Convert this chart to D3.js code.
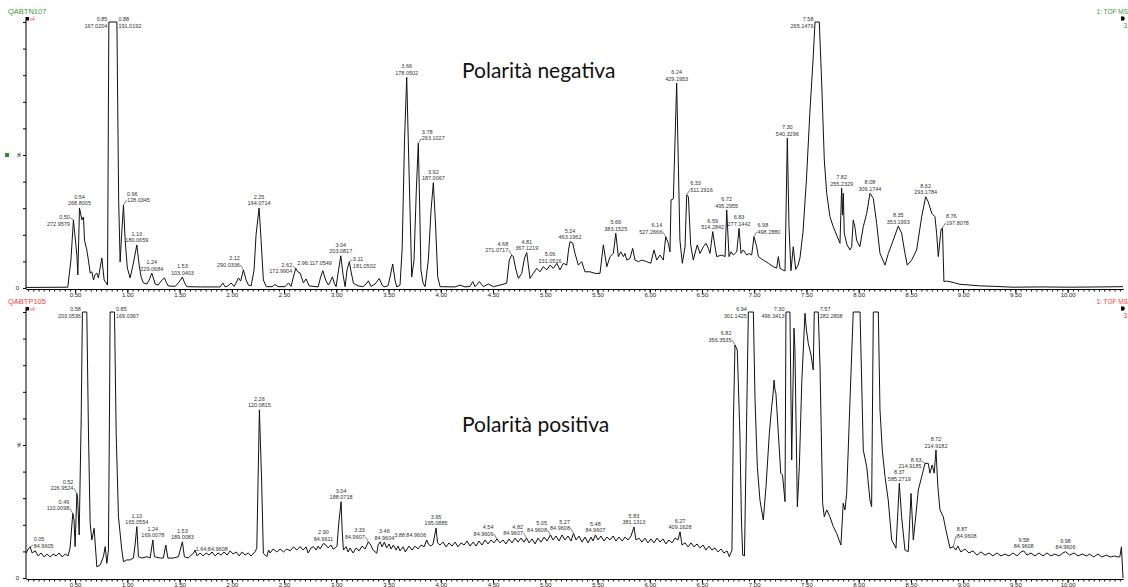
<!DOCTYPE html>
<html><head><meta charset="utf-8">
<script src="https://cdn.jsdelivr.net/npm/d3@7"></script>
<style>body{margin:0;background:#fff}svg{display:block}</style>
</head><body>
<svg id="chart" width="1128" height="587"></svg>
<script>
// Retention time (min) and relative intensity (%) of the ESI- TIC trace
const negTrace = [[0.03,0.2],[0.43,0.3],[0.46,10.5],[0.484,25.6],[0.517,12.4],[0.526,4.9],[0.542,30.1],[0.565,25.6],[0.58,26.7],[0.59,18],[0.612,14.3],[0.63,9.8],[0.644,5.6],[0.66,6.1],[0.676,3],[0.69,4.9],[0.708,5.6],[0.723,3.8],[0.756,11.3],[0.778,3],[0.81,1.1],[0.823,100],[0.90,100],[0.917,33],[0.931,9.8],[0.945,19.9],[0.963,31.2],[0.979,18],[1.0,7.5],[1.027,3.8],[1.058,9.4],[1.091,16.2],[1.113,8.6],[1.132,4.1],[1.154,1.9],[1.187,1.5],[1.209,3],[1.234,5.6],[1.252,3.4],[1.266,1.5],[1.295,1.1],[1.323,2.6],[1.355,3.8],[1.376,1.9],[1.39,0.8],[1.457,0.6],[1.496,2.3],[1.527,4.1],[1.548,1.9],[1.569,0.5],[1.697,0.4],[1.888,0.4],[1.914,1.9],[1.936,0.4],[1.965,0.8],[1.993,1.9],[2.022,0.6],[2.041,1.9],[2.063,3.8],[2.085,2.6],[2.111,6.8],[2.137,3],[2.159,1.1],[2.185,0.8],[2.213,6.8],[2.232,20],[2.261,30.1],[2.28,18],[2.302,3],[2.331,0.5],[2.386,0.5],[2.414,1.3],[2.443,0.5],[2.51,0.5],[2.542,1.9],[2.567,0.6],[2.587,3.8],[2.612,7.4],[2.634,6],[2.654,5.6],[2.685,1.9],[2.711,3.4],[2.74,0.8],[2.826,0.4],[2.85,4.1],[2.871,6.5],[2.898,3],[2.925,1.1],[2.941,2.3],[2.963,4.2],[2.98,1.9],[2.998,0.5],[3.022,6.8],[3.043,12.1],[3.065,4.9],[3.084,0.5],[3.103,6.8],[3.125,9.9],[3.142,6],[3.164,1.8],[3.209,0.8],[3.256,0.5],[3.285,1.5],[3.307,2.7],[3.333,0.6],[3.371,1.5],[3.412,3.6],[3.438,1.1],[3.457,0.4],[3.495,0.8],[3.514,4.1],[3.54,9],[3.562,3],[3.579,0.4],[3.61,1.1],[3.63,14.3],[3.653,55.6],[3.674,79.2],[3.696,44.4],[3.722,4.2],[3.744,10.5],[3.766,36.8],[3.785,54.4],[3.797,33],[3.81,6.8],[3.83,1.9],[3.85,0.5],[3.881,10.5],[3.907,29.3],[3.929,39.6],[3.95,23.7],[3.971,4.2],[3.993,0.5],[4.137,0.4],[4.185,1.1],[4.232,0.4],[4.28,0.6],[4.306,2.4],[4.328,0.5],[4.37,2.4],[4.408,0.5],[4.455,1.5],[4.503,0.5],[4.567,1.1],[4.631,1.8],[4.656,10.5],[4.679,12.4],[4.695,11.7],[4.72,6.8],[4.743,3.6],[4.775,5.5],[4.802,11.3],[4.823,13.3],[4.838,8.6],[4.854,3.6],[4.886,5.5],[4.919,7.4],[4.95,6.1],[4.982,8],[5.014,6.8],[5.046,8.6],[5.077,7.4],[5.11,9.3],[5.141,6.8],[5.173,9.3],[5.206,8.6],[5.223,14.3],[5.237,17.4],[5.263,16.9],[5.285,13],[5.317,8.6],[5.349,9.9],[5.38,6.1],[5.428,6.1],[5.476,5.5],[5.524,5.5],[5.556,16.2],[5.589,8],[5.62,11.8],[5.652,13],[5.675,20.6],[5.7,11.8],[5.723,13.6],[5.748,11.8],[5.764,13],[5.78,10.5],[5.811,11.2],[5.837,14.9],[5.859,10.5],[5.891,9.9],[5.923,10.5],[5.971,9.9],[6.01,9.3],[6.041,14.3],[6.067,10.5],[6.098,12.4],[6.13,10.5],[6.153,19.3],[6.178,16.8],[6.194,13.6],[6.204,33.1],[6.226,33.5],[6.235,45.6],[6.258,77],[6.289,18],[6.312,9.3],[6.338,15.5],[6.354,35],[6.37,34.3],[6.392,16.2],[6.417,10.5],[6.455,16.2],[6.481,13],[6.513,15.5],[6.539,16.8],[6.561,14.9],[6.577,13],[6.603,21.2],[6.625,15.5],[6.641,11.8],[6.689,12.4],[6.721,11.8],[6.737,29.3],[6.759,11.8],[6.778,13.6],[6.8,12.4],[6.833,13.6],[6.855,22.4],[6.874,13],[6.896,14.3],[6.928,12.4],[6.953,13],[6.976,12.4],[6.998,19.3],[7.024,15.5],[7.04,11.8],[7.087,10.5],[7.135,9.3],[7.183,8],[7.215,7.5],[7.231,11.8],[7.247,7.4],[7.273,6.8],[7.295,6.4],[7.317,56.3],[7.333,23],[7.352,6.5],[7.374,15.5],[7.397,7],[7.42,8.6],[7.438,11.3],[7.467,21],[7.5,40.6],[7.534,66.9],[7.565,86.8],[7.582,100],[7.623,100],[7.646,77],[7.671,48.1],[7.694,35.6],[7.725,26.8],[7.757,23],[7.789,19.9],[7.821,16.8],[7.837,37.5],[7.845,27.4],[7.853,35.6],[7.862,20.6],[7.888,16.2],[7.917,14.3],[7.933,15.5],[7.948,25.6],[7.964,22.9],[7.98,18],[8.011,15.5],[8.044,23],[8.077,28.1],[8.108,35.6],[8.14,33.7],[8.172,24.3],[8.204,13],[8.252,8.6],[8.284,13],[8.331,18],[8.379,23.3],[8.411,20.6],[8.443,13],[8.465,8.6],[8.507,10.5],[8.555,14.3],[8.603,26.8],[8.641,34.3],[8.666,32.4],[8.699,28.1],[8.73,26.8],[8.746,20.6],[8.762,11.8],[8.788,21.8],[8.802,22.6],[8.816,2.4],[8.842,2.6],[8.902,2.1],[8.969,1.4],[9.065,1.1],[9.16,0.8],[9.304,0.6],[9.477,0.3],[9.735,0.4],[10.02,0.3],[10.31,0.4],[10.53,0.5]];

// Retention time (min) and relative intensity (%) of the ESI+ TIC trace
const posTrace = [[0.032,9.4],[0.051,10.9],[0.07,11.7],[0.089,9.4],[0.118,10.2],[0.146,8.3],[0.175,9.4],[0.204,7.9],[0.232,9],[0.261,7.9],[0.29,9],[0.318,8.3],[0.347,9.4],[0.376,7.9],[0.405,9],[0.433,8.3],[0.452,11.3],[0.478,24.3],[0.49,21.8],[0.5,11.8],[0.517,31.8],[0.525,29.3],[0.539,16.2],[0.558,59.4],[0.57,100],[0.612,100],[0.628,54.5],[0.644,20.6],[0.66,14.3],[0.682,18.7],[0.708,4.2],[0.74,4.9],[0.771,8],[0.788,11.8],[0.804,5.5],[0.819,10.5],[0.83,66.9],[0.835,100],[0.877,100],[0.893,54.5],[0.915,23],[0.947,10.5],[0.963,6.1],[0.995,6.8],[1.027,6.8],[1.058,7.5],[1.074,12.4],[1.091,19.3],[1.106,8],[1.139,7.5],[1.187,8],[1.218,7.5],[1.244,14.3],[1.259,8],[1.314,7.5],[1.345,7.5],[1.368,12.4],[1.388,7.5],[1.441,7.5],[1.489,8],[1.527,13.6],[1.546,8],[1.582,7.5],[1.601,8.3],[1.633,9.3],[1.649,10.5],[1.668,8.3],[1.697,9.4],[1.725,8.3],[1.754,9.4],[1.783,8.6],[1.811,9.8],[1.84,8.3],[1.869,9.4],[1.898,8.6],[1.926,9.8],[1.955,8.6],[1.984,10.2],[2.012,9],[2.041,9.8],[2.07,8.3],[2.099,9.8],[2.127,8.6],[2.156,9.4],[2.185,8.3],[2.223,9.9],[2.239,11.2],[2.264,63.2],[2.285,36.8],[2.302,9.3],[2.335,8],[2.352,10.5],[2.367,9.4],[2.395,10.9],[2.431,9.8],[2.462,10.9],[2.494,9.8],[2.526,10.9],[2.558,10.2],[2.59,11.7],[2.622,10.5],[2.654,11.8],[2.682,10.5],[2.711,11.7],[2.73,9.4],[2.759,11.3],[2.781,11.8],[2.807,10.5],[2.826,12],[2.845,10.9],[2.877,13],[2.9,12.4],[2.922,11.3],[2.95,12.4],[2.969,10.9],[2.989,11.3],[3.007,12],[3.022,19.9],[3.046,28.7],[3.056,18],[3.068,10.5],[3.094,11.8],[3.113,9.8],[3.132,11.3],[3.161,9.4],[3.189,11.3],[3.218,10.2],[3.247,12],[3.276,10.9],[3.307,13.6],[3.33,12.4],[3.352,10.5],[3.388,9.3],[3.4,12.4],[3.419,13.6],[3.438,11.7],[3.46,13.5],[3.481,11.3],[3.505,12.8],[3.524,10.9],[3.547,12.4],[3.572,10.5],[3.591,12],[3.61,10.2],[3.639,11.7],[3.661,9.8],[3.696,12],[3.725,10.5],[3.754,12],[3.782,10.9],[3.811,12.4],[3.84,11.7],[3.866,14.3],[3.88,12.8],[3.907,12],[3.926,12.8],[3.955,18.8],[3.969,13.2],[3.993,12.4],[4.022,13.5],[4.051,11.7],[4.079,13.2],[4.108,12],[4.137,13.5],[4.165,11.7],[4.194,13.2],[4.223,12.4],[4.251,13.9],[4.28,12],[4.309,13.5],[4.338,12],[4.366,13.9],[4.395,12.4],[4.424,14.3],[4.452,12.8],[4.481,14.3],[4.51,13.2],[4.538,14.7],[4.567,13.2],[4.596,14.3],[4.624,12.8],[4.653,14.7],[4.682,13.2],[4.711,15],[4.739,13.5],[4.768,15],[4.797,13.5],[4.821,15],[4.845,13.2],[4.874,14.7],[4.902,12.8],[4.931,15],[4.96,13.5],[4.989,15.4],[5.017,13.9],[5.05,16.2],[5.074,14.3],[5.103,15.8],[5.132,13.9],[5.161,16.2],[5.189,14.3],[5.218,15.8],[5.247,13.9],[5.27,16.8],[5.295,14.3],[5.323,15.8],[5.352,13.5],[5.381,15.4],[5.41,13.2],[5.438,15.4],[5.457,13.9],[5.48,16.2],[5.505,14.3],[5.534,15.8],[5.563,13.9],[5.591,15.4],[5.62,14.3],[5.649,15.8],[5.677,13.9],[5.706,15.4],[5.735,13.9],[5.763,15.4],[5.792,14.3],[5.821,15.8],[5.849,19.2],[5.868,14.3],[5.897,15],[5.926,13.5],[5.955,15],[5.983,13.2],[6.012,14.7],[6.041,13.2],[6.07,15],[6.098,13.5],[6.127,14.7],[6.156,12.8],[6.184,14.3],[6.213,13.2],[6.242,15],[6.271,14.3],[6.29,17.4],[6.309,12.4],[6.338,13.2],[6.367,11.7],[6.395,13.2],[6.424,11.7],[6.453,12.8],[6.481,11.3],[6.51,12.4],[6.539,10.5],[6.567,12],[6.596,10.5],[6.625,11.3],[6.654,9.8],[6.682,10.9],[6.711,9.4],[6.74,10.2],[6.762,8],[6.787,10.5],[6.801,59.4],[6.816,87.6],[6.838,85.7],[6.863,54.4],[6.878,21.8],[6.89,8.6],[6.907,8.3],[6.926,55.6],[6.944,100],[6.992,100],[7.008,66.9],[7.03,41.8],[7.055,29.3],[7.087,21.8],[7.113,34.3],[7.145,54.4],[7.167,64.4],[7.18,68.8],[7.19,74.4],[7.199,70.7],[7.208,69.4],[7.231,54.4],[7.254,39.4],[7.271,38.7],[7.295,28.7],[7.304,100],[7.342,100],[7.359,44.4],[7.381,93.9],[7.39,85.7],[7.413,26.8],[7.432,41.8],[7.455,73.2],[7.486,99.5],[7.5,93.2],[7.518,88.2],[7.544,83.8],[7.558,80.1],[7.565,78.2],[7.575,100],[7.613,100],[7.63,79.4],[7.655,28.1],[7.671,23],[7.694,25.6],[7.725,23],[7.757,19.3],[7.789,16.8],[7.83,12.4],[7.852,28.1],[7.869,25.6],[7.885,31.8],[7.917,66.9],[7.948,100],[8.013,100],[8.044,48.1],[8.077,41.8],[8.108,29.3],[8.124,26.8],[8.14,100],[8.188,100],[8.204,63.2],[8.226,48.1],[8.252,38.1],[8.283,29.3],[8.316,14.3],[8.357,11.2],[8.389,35.6],[8.411,23],[8.443,10.5],[8.475,9.9],[8.501,31.8],[8.523,14.3],[8.549,24.3],[8.571,33.1],[8.603,38.1],[8.635,43.1],[8.666,43.1],[8.682,39.4],[8.704,42.5],[8.723,39.4],[8.74,48.1],[8.758,34.3],[8.778,25.6],[8.81,23],[8.835,18],[8.874,11.2],[8.905,11.8],[8.93,10.5],[8.95,12],[8.978,9.8],[9.017,10.9],[9.055,9.4],[9.094,10.2],[9.132,8.6],[9.17,9.8],[9.209,8.6],[9.247,9.4],[9.285,8.3],[9.323,9.4],[9.362,8.3],[9.4,9],[9.438,8.3],[9.477,9.4],[9.515,8.3],[9.553,9.8],[9.58,10.2],[9.611,8.6],[9.649,9.4],[9.687,8.3],[9.725,9.4],[9.764,8.3],[9.802,9.4],[9.84,8.3],[9.878,9],[9.917,8.3],[9.955,9.4],[9.98,9.9],[10.02,8.6],[10.06,9.4],[10.1,8.3],[10.14,9],[10.18,8.3],[10.21,9],[10.25,7.9],[10.29,9],[10.33,7.9],[10.37,8.6],[10.41,7.9],[10.45,8.3],[10.48,7.9],[10.5,8],[10.515,11.7],[10.53,0]];

// Peak annotations: retention time, base-peak m/z
const negLabels = [["0.50","272.9579"],["0.54","268.8005"],["0.85","167.0204"],["0.88","191.0192"],["0.96","128.0345"],["1.10","180.0659"],["1.24","229.0684"],["1.53","103.0403"],["2.12","290.0336"],["2.25","164.0714"],["2.62","172.9904"],["2.96","117.0549"],["3.04","203.0817"],["3.11","181.0502"],["3.66","178.0502"],["3.78","263.1027"],["3.92","187.0067"],["4.68","271.0717"],["4.81","367.1219"],["5.06","231.0516"],["5.24","463.1962"],["5.66","383.1525"],["6.14","527.2666"],["6.24","429.1953"],["6.33","511.2916"],["6.59","514.2842"],["6.72","495.2955"],["6.83","277.1442"],["6.98","498.2880"],["7.30","540.3296"],["7.58","265.1476"],["7.82","255.2329"],["8.08","309.1744"],["8.35","353.1993"],["8.62","293.1784"],["8.76","197.8078"]];
const posLabels = [["0.05","84.9605"],["0.49","110.0098"],["0.52","226.9524"],["0.58","203.0536"],["0.85","169.0367"],["1.10","165.0554"],["1.24","169.0078"],["1.53","189.0083"],["1.64","84.9608"],["2.26","120.0815"],["2.90","84.9611"],["3.04","188.0718"],["3.33","84.9607"],["3.46","84.9604"],["3.88","84.9606"],["3.95","195.0885"],["4.54","84.9606"],["4.82","84.9607"],["5.05","84.9608"],["5.27","84.9608"],["5.48","84.9607"],["5.83","381.1313"],["6.27","409.1628"],["6.82","356.3535"],["6.94","301.1425"],["7.30","496.3413"],["7.57","282.2808"],["8.37","585.2719"],["8.63","214.9185"],["8.72","214.9182"],["8.87","84.9608"],["9.58","84.9608"],["9.98","84.9606"]];

// Time-axis tick labels (min)
const timeTicks = ["0.50","1.00","1.50","2.00","2.50","3.00","3.50","4.00","4.50","5.00","5.50","6.00","6.50","7.00","7.50","8.00","8.50","9.00","9.50","10.00"];

// Annotation layout: side of the peak (default centred), single-line labels,
// and vertical nudges (px, positive = lower) for crowded peaks
const negSide = {"0.50":"end","0.85":"end","0.88":"start","0.96":"start","2.12":"end","2.62":"end","2.96":"end","3.11":"start","3.78":"start","4.68":"end","6.14":"end","6.33":"start","6.98":"start","7.58":"end","8.76":"start"};
const posSide = {"0.05":"start","0.49":"end","0.52":"end","0.58":"end","0.85":"start","1.64":"start","3.33":"end","3.88":"end","4.54":"end","4.82":"end","5.05":"end","5.27":"end","6.82":"end","6.94":"end","7.30":"end","7.57":"start","8.63":"end","8.87":"start"};
const negInline = ["2.96"];
const posInline = ["1.64","3.88"];
const negNudge = {"0.50": 9, "2.62": 8, "3.11": 9, "2.96": -9};
const posNudge = {"8.63": 8, "1.64": 4, "0.05": 4, "8.87": -6};

const svg = d3.select("#chart");
const FONT = "'Liberation Sans', Arial, sans-serif";
const x = d3.scaleLinear().domain([0.03, 10.53]).range([26, 1123]);

const panels = [
  {trace: negTrace, labels: negLabels, side: negSide, inline: negInline, nudge: negNudge, top: 22, base: 288,
   id: "QABTN107", color: "#3a9a3a", title: "Polarità negativa", titleY: 78, pct: true},
  {trace: posTrace, labels: posLabels, side: posSide, inline: posInline, nudge: posNudge, top: 312, base: 578,
   id: "QABTP105", color: "#ff3c3c", title: "Polarità positiva", titleY: 432, pct: false}
];

// find the apex a label refers to: plateau edge for clipped peaks, otherwise
// the tallest local maximum close to the label time (or the nearest one)
function apex(trace, t0, side) {
  const clipped = trace.filter(d => Math.abs(d[0] - t0) <= 0.045 && d[1] >= 100);
  if (clipped.length) {
    return side === "start" ? clipped[clipped.length - 1] : clipped[0];
  }
  const maxima = [];
  for (let i = 1; i < trace.length - 1; i++) {
    const d = trace[i];
    if (d[1] >= trace[i - 1][1] && d[1] >= trace[i + 1][1]) maxima.push(d);
  }
  const near = maxima.filter(d => Math.abs(d[0] - t0) <= 0.026);
  if (near.length) return near.reduce((a, b) => (b[1] > a[1] ? b : a));
  return maxima.reduce((a, b) => (Math.abs(b[0] - t0) < Math.abs(a[0] - t0) ? b : a));
}

panels.forEach(p => {
  const y = d3.scaleLinear().domain([0, 100]).range([p.base, p.top]);
  const g = svg.append("g");

  // y axis
  const ya = g.append("g").attr("transform", "translate(26,0)")
    .call(d3.axisLeft(y).tickValues(d3.range(0, 101, 10)).tickSize(3).tickSizeOuter(0)
      .tickFormat(d => d === 0 ? "0" : ""));
  ya.select(".domain").attr("d", `M0,${p.top - 2}V${p.base + 1}`).attr("stroke", "#000");
  ya.selectAll("text").attr("font-family", FONT).attr("font-size", 6).attr("fill", "#222").attr("dx", -1);
  g.append("text").attr("transform", `translate(21,${y(50)}) rotate(-90)`)
    .attr("text-anchor", "middle").attr("font-family", FONT).attr("font-size", 5.5).attr("fill", "#222").text("%");
  if (p.pct) {
    g.append("rect").attr("x", 5).attr("y", y(50) - 2).attr("width", 4).attr("height", 4).attr("fill", "#2e8b2e");
  }

  // x axis: minor ticks then labelled major ticks
  const xa = g.append("g").attr("transform", `translate(0,${p.base + 1})`);
  xa.append("g").call(d3.axisBottom(x).tickValues(d3.range(0.05, 10.53, 0.05)).tickSize(2.5).tickSizeOuter(0).tickFormat(""));
  xa.append("g").call(d3.axisBottom(x).tickValues(timeTicks.map(Number)).tickSize(4).tickSizeOuter(0)
      .tickFormat((d, i) => timeTicks[i]));
  xa.selectAll(".domain").attr("stroke", "#000");
  xa.selectAll("text").attr("font-family", FONT).attr("font-size", 6).attr("fill", "#222").attr("dy", "0.2em");

  // trace
  const line = d3.line().x(d => x(d[0])).y(d => y(d[1]));
  g.append("path").datum(p.trace).attr("d", line)
    .attr("fill", "none").attr("stroke", "#111").attr("stroke-width", 1).attr("stroke-linejoin", "round");

  // peak annotations
  const lab = g.append("g").attr("font-family", FONT).attr("font-size", 5.5).attr("fill", "#333");
  p.labels.forEach(([rt, mz]) => {
    const side = p.side[rt] || "middle";
    const a = apex(p.trace, +rt, side);
    const px = x(a[0]), py = y(a[1]);
    const dir = side === "start" ? 1 : side === "end" ? -1 : 0;
    const clipped = a[1] >= 100;
    const inline = p.inline.includes(rt);
    const nudge = p.nudge[rt] || 0;
    let tx = px, b2;
    if (clipped) {
      tx = px + dir * 1.5;
      b2 = p.top + 5.5;
    } else if (dir) {
      tx = px + dir * (inline ? 0.5 : 3.5);
      b2 = py - 3 + nudge;
      if (!inline) {
        lab.append("line").attr("x1", px).attr("y1", py).attr("x2", px + dir * 3).attr("y2", Math.min(py, b2) - 2)
          .attr("stroke", "#333").attr("stroke-width", 0.6);
      }
    } else {
      b2 = py - 2.5 + nudge;
    }
    if (inline) {
      lab.append("text").attr("x", tx).attr("y", b2).attr("text-anchor", side).text(rt + ";" + mz);
    } else {
      lab.append("text").attr("x", tx).attr("y", b2 - 6.5).attr("text-anchor", side).text(rt);
      lab.append("text").attr("x", tx).attr("y", b2).attr("text-anchor", side).text(mz);
    }
  });

  // header: sample id, scale marker, function name
  g.append("text").attr("x", 8).attr("y", p.top - 8).attr("font-family", FONT).attr("font-size", 7.5)
    .attr("fill", p.color).text(p.id);
  g.append("rect").attr("x", 25.5).attr("y", p.top - 5).attr("width", 3.5).attr("height", 3.5).attr("fill", "#000");
  g.append("text").attr("x", 29.5).attr("y", p.top - 1.5).attr("font-family", FONT).attr("font-size", 5)
    .attr("fill", "#ff3c3c").text("x4");
  g.append("text").attr("x", 1128).attr("y", p.top - 8).attr("text-anchor", "end").attr("font-family", FONT)
    .attr("font-size", 6.5).attr("fill", p.color).text("1: TOF MS");
  g.append("path").attr("d", `M1121,${p.top - 5.5}h3l0.8,2l-0.8,2h-3z`).attr("fill", "#000");
  g.append("text").attr("x", 1123.5).attr("y", p.top + 6).attr("font-family", FONT).attr("font-size", 6.5)
    .attr("fill", p.color).text("3.");

  // panel title
  g.append("text").attr("x", 462).attr("y", p.titleY).attr("font-family", "Lato, 'Open Sans', sans-serif")
    .attr("font-size", 21).attr("fill", "#111").text(p.title);
});
</script>
</body></html>
